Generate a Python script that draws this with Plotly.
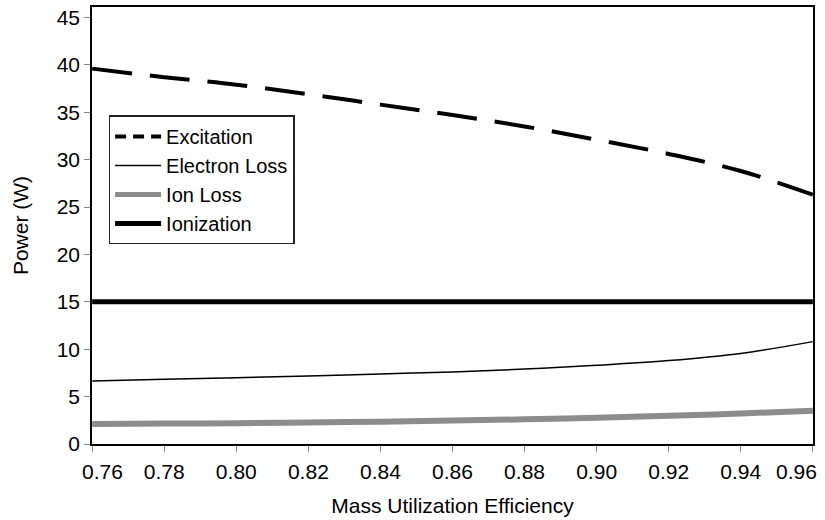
import plotly.graph_objects as go

# ---- data ----
efficiency = [0.76, 0.78, 0.80, 0.82, 0.84, 0.86, 0.88, 0.90, 0.92, 0.94, 0.96]
excitation = [39.6, 38.7, 37.9, 36.9, 35.8, 34.7, 33.5, 32.1, 30.6, 28.8, 26.3]
electron_loss = [6.65, 6.83, 7.0, 7.18, 7.39, 7.6, 7.9, 8.3, 8.8, 9.55, 10.8]
ion_loss = [2.1, 2.15, 2.2, 2.28, 2.36, 2.47, 2.6, 2.76, 2.97, 3.22, 3.52]
ionization = [15.0, 15.0, 15.0, 15.0, 15.0, 15.0, 15.0, 15.0, 15.0, 15.0, 15.0]

x_tick_vals = [0.76, 0.78, 0.80, 0.82, 0.84, 0.86, 0.88, 0.90, 0.92, 0.94, 0.96]
x_tick_labels = ["0.76", "0.78", "0.80", "0.82", "0.84", "0.86", "0.88", "0.90", "0.92", "0.94", "0.96"]
y_tick_vals = [0, 5, 10, 15, 20, 25, 30, 35, 40, 45]

FONT = "Liberation Sans, Arial, sans-serif"
FS = 21

# the two edge labels sit nudged inward in the reference, so they are drawn
# as annotations at their tick values; the inner labels use the axis itself
ticktext = [""] + x_tick_labels[1:-1] + [""]
edge_shift = {0: 10, len(x_tick_vals) - 1: -16}

fig = go.Figure()

fig.add_trace(go.Scatter(x=efficiency, y=excitation, mode="lines", name="Excitation",
                         line=dict(color="black", width=4, dash="40px,18px", shape="spline"),
                         showlegend=False))
fig.add_trace(go.Scatter(x=efficiency, y=electron_loss, mode="lines", name="Electron Loss",
                         line=dict(color="black", width=1.5, shape="spline"), showlegend=False))
fig.add_trace(go.Scatter(x=efficiency, y=ion_loss, mode="lines", name="Ion Loss",
                         line=dict(color="#8c8c8c", width=6, shape="spline"), showlegend=False))
fig.add_trace(go.Scatter(x=efficiency, y=ionization, mode="lines", name="Ionization",
                         line=dict(color="black", width=5), showlegend=False))

# legend entries (legend shows a shorter dash pattern than the plotted line)
fig.add_trace(go.Scatter(x=[None], y=[None], mode="lines", name="Excitation",
                         line=dict(color="black", width=4, dash="11px,7px")))
fig.add_trace(go.Scatter(x=[None], y=[None], mode="lines", name="Electron Loss",
                         line=dict(color="black", width=1.5)))
fig.add_trace(go.Scatter(x=[None], y=[None], mode="lines", name="Ion Loss",
                         line=dict(color="#8c8c8c", width=5)))
fig.add_trace(go.Scatter(x=[None], y=[None], mode="lines", name="Ionization",
                         line=dict(color="black", width=5)))

for i, shift in edge_shift.items():
    fig.add_annotation(x=x_tick_vals[i], y=0, xref="x", yref="paper",
                       text=x_tick_labels[i], showarrow=False,
                       xanchor="center", yanchor="middle",
                       xshift=shift, yshift=-27,
                       font=dict(family=FONT, size=FS, color="black"))

fig.update_layout(
    width=825, height=520,
    margin=dict(l=92, r=12, t=7, b=76, autoexpand=False),
    paper_bgcolor="white", plot_bgcolor="white",
    font=dict(family=FONT, size=FS, color="black"),
    showlegend=True,
    legend=dict(x=0.023, y=0.752, xanchor="left", yanchor="top",
                bgcolor="white", bordercolor="#222", borderwidth=1.5,
                font=dict(size=FS - 1), itemwidth=46, tracegroupgap=0,
                entrywidth=156),
    xaxis=dict(range=[0.75995, 0.96005], tickvals=x_tick_vals, ticktext=ticktext,
               automargin=False, ticklabelstandoff=2,
               showgrid=False, zeroline=False,
               showline=True, linecolor="black", linewidth=1.5, mirror=True,
               ticks="outside", ticklen=6, tickcolor="#888", tickwidth=1,
               tickfont=dict(size=FS),
               title=dict(text="Mass Utilization Efficiency", font=dict(size=FS), standoff=16)),
    yaxis=dict(range=[0, 46.1], tickvals=y_tick_vals, automargin=False,
               showgrid=False, zeroline=False,
               showline=True, linecolor="black", linewidth=1.5, mirror=True,
               ticks="outside", ticklen=6, tickcolor="#888", tickwidth=1,
               tickfont=dict(size=FS),
               title=dict(text="Power (W)", font=dict(size=FS), standoff=22)),
)

fig.write_html("out.html")
